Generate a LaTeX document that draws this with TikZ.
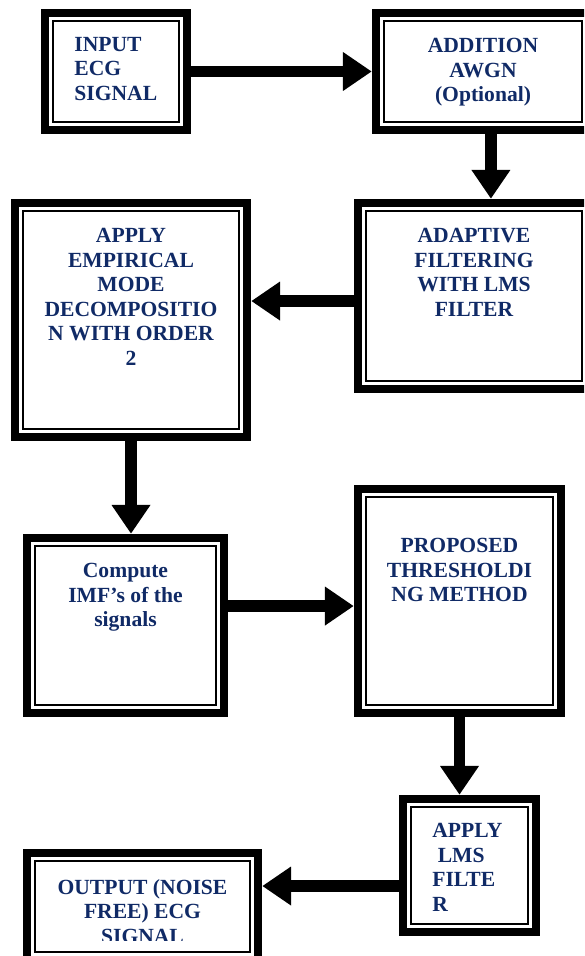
\documentclass[tikz,border=0pt]{standalone}
\usepackage{fontspec}
\setmainfont{Liberation Serif}
\usetikzlibrary{arrows.meta,fit}
\definecolor{boxtext}{HTML}{102A66}

\begin{document}
\begin{tikzpicture}[x=0.5556pt,y=-0.5556pt,
  blk/.style={draw, line width=4.7pt, inner sep=0pt},
  inframe/.style={line width=1.1pt},
  txt/.style={inner sep=0pt, text=boxtext, font=\bfseries\fontsize{12pt}{13.6pt}\selectfont, align=center, anchor=north},
  flow/.style={line width=6.5pt, -{Triangle[length=16pt,width=20.5pt]}}]

\useasboundingbox (0,0) rectangle (584,956);
\clip (0,0) rectangle (584,956);

\node[blk, fit={(45,13) (187,130)}] (ecgin) {};
\node[blk, fit={(376,13) (590,130)}] (awgn) {};
\node[blk, fit={(358,203) (590,389)}] (lms) {};
\node[blk, fit={(15,203) (247,437)}] (emd) {};
\node[blk, fit={(27,538) (224,713)}] (imf) {};
\node[blk, fit={(358,489) (561,713)}] (thr) {};
\node[blk, fit={(403,799) (536,932)}] (lmsf) {};
\node[blk, fit={(27,853) (258,960)}] (ecgout) {};

\foreach \n in {ecgin,awgn,lms,emd,imf,thr,lmsf,ecgout}
  \draw[inframe] ([shift={(6.7pt,-6.7pt)}]\n.north west) rectangle ([shift={(-6.7pt,6.7pt)}]\n.south east);

\node[txt, anchor=north west, align=left] (ecgintxt) at (74,37) {INPUT\\ECG\\SIGNAL};
\node[txt] (awgntxt) at (483,38) {ADDITION\\AWGN\\(Optional)};
\node[txt] (lmstxt) at (474,228) {ADAPTIVE\\FILTERING\\WITH LMS\\FILTER};
\node[txt] (emdtxt) at (131,228) {APPLY\\EMPIRICAL\\MODE\\DECOMPOSITIO\\N WITH ORDER\\2};
\node[txt] (imftxt) at (125.5,563) {Compute\\IMF’s of the\\signals};
\node[txt] (thrtxt) at (459.5,538) {PROPOSED\\THRESHOLDI\\NG METHOD};
\node[txt, anchor=north west, align=left] (lmsftxt) at (432,823) {APPLY\\\ LMS\\FILTE\\R};
\begin{scope}
\clip (0,0) rectangle (584,940);
\node[txt] (ecgouttxt) at (142.5,879) {OUTPUT (NOISE\\FREE) ECG\\SIGNAL};
\end{scope}

\draw[flow] (ecgin.east) -- (ecgin.east -| awgn.west);
\draw[flow] ([xshift=4.4pt]awgn.south) -- ([xshift=4.4pt]awgn.south |- lms.north);
\draw[flow] ([yshift=-2.8pt]lms.west) -- ([yshift=-2.8pt]lms.west -| emd.east);
\draw[flow] (emd.south) -- (emd.south |- imf.north);
\draw[flow] ([yshift=-2.8pt]thr.west -| imf.east) -- ([yshift=-2.8pt]thr.west);
\draw[flow] (thr.south) -- (thr.south |- lmsf.north);
\draw[flow] ([yshift=-11.4pt]lmsf.west) -- ([yshift=-11.4pt]lmsf.west -| ecgout.east);

\end{tikzpicture}
\end{document}
